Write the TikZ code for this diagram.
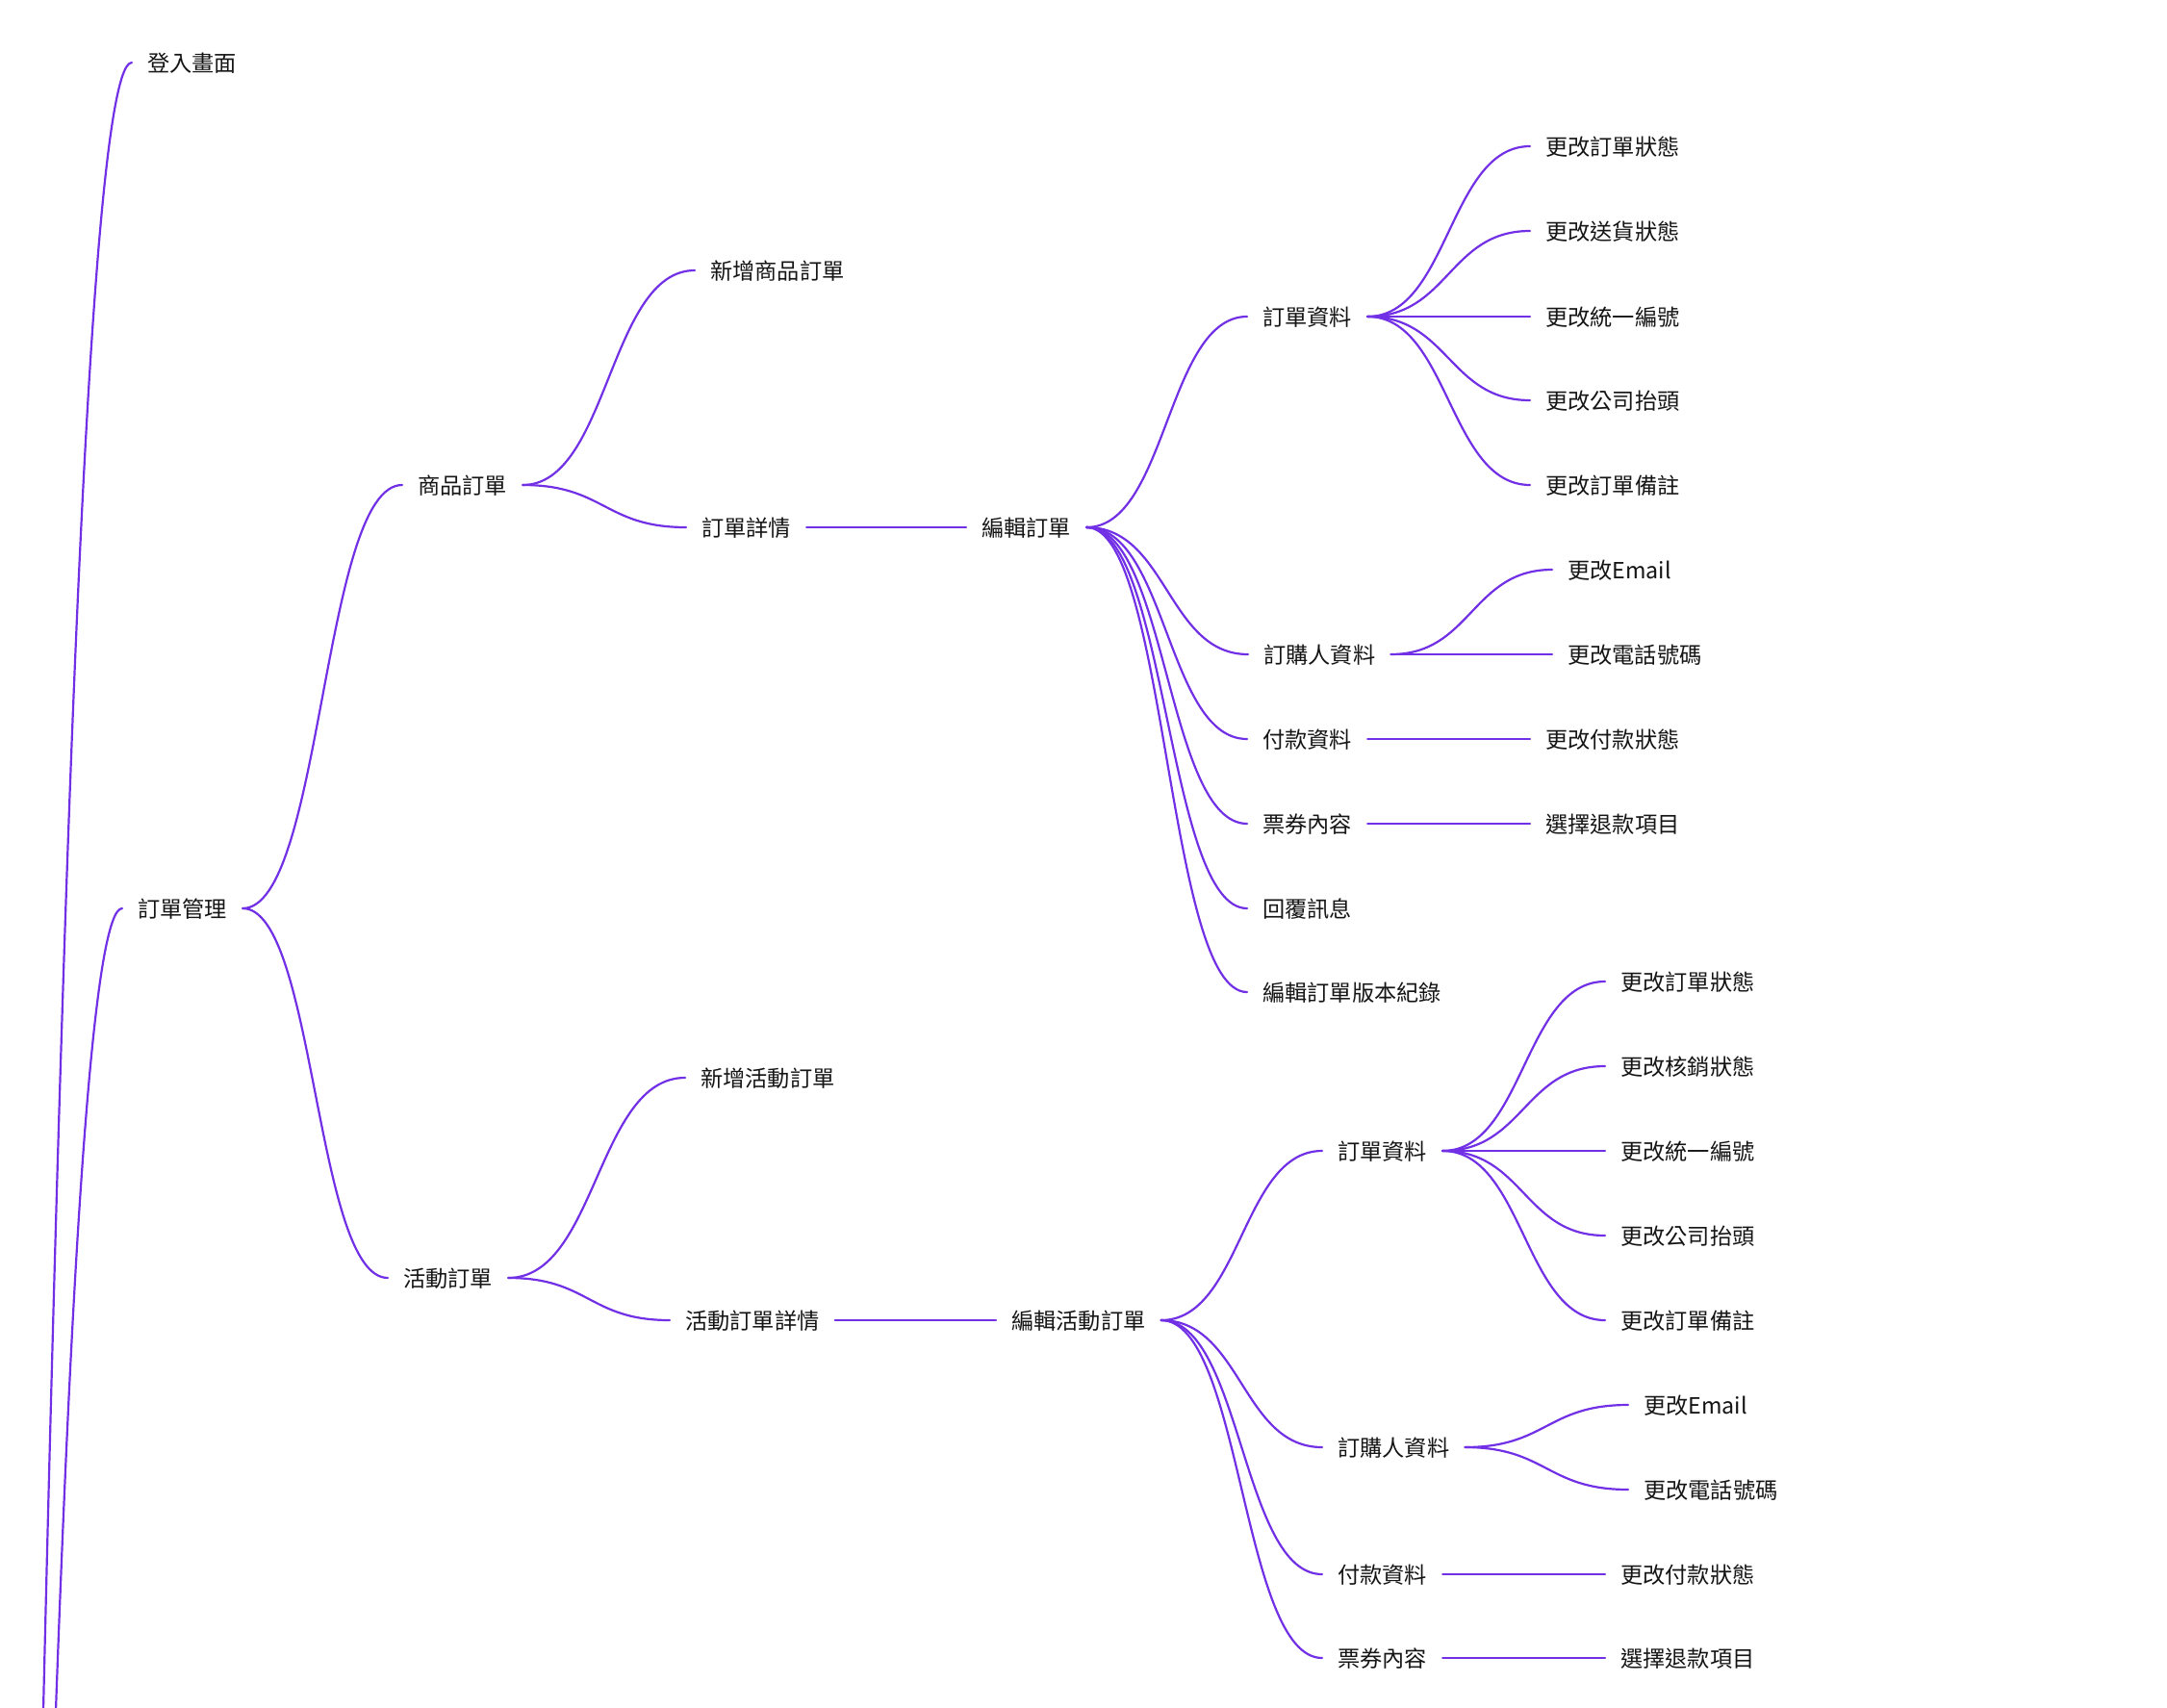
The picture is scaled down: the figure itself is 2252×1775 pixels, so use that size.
\documentclass[tikz,border=0pt]{standalone}
\usepackage{fontspec}
\newfontfamily\cjk{Noto Sans CJK TC}
\usetikzlibrary{calc}
\definecolor{linkc}{HTML}{7230E6}
\definecolor{ink}{HTML}{151515}
\tikzset{
  lbl/.style={anchor=west, font=\cjk\fontsize{23.2}{28}\selectfont, text=ink,
    inner xsep=16pt, inner ysep=0pt, text height=22.6pt, text depth=2.8pt},
  link/.style={draw=linkc, line width=2.2pt, line cap=round},
  mm/.style={to path={let \p1=(\tikztostart), \p2=(\tikztotarget) in
    .. controls ({0.5*(\x1+\x2)},\y1) and ({0.5*(\x1+\x2)},\y2) .. (\tikztotarget)}}
}
\begin{document}
\begin{tikzpicture}[x=1pt,y=-1pt]
\useasboundingbox (0,0) rectangle (2252,1775);
\clip (0,0) rectangle (2252,1775);
\fill[white] (0,0) rectangle (2252,1775);
\coordinate (root) at (-100,6000);
% level 1
\node[lbl] (login) at (137,65) {登入畫面};
\node[lbl] (om) at (127,944) {訂單管理};
% level 2
\node[lbl] (po) at (418,504) {商品訂單};
\node[lbl] (ao) at (403,1328) {活動訂單};
% product branch
\node[lbl] (pnew) at (722,281) {新增商品訂單};
\node[lbl] (pdet) at (713,548) {訂單詳情};
\node[lbl] (pedit) at (1004,548) {編輯訂單};
\node[lbl] (pod) at (1296,329) {訂單資料};
\node[lbl] (pbuy) at (1297,680) {訂購人資料};
\node[lbl] (ppay) at (1296,768) {付款資料};
\node[lbl] (ptk) at (1296,856) {票券內容};
\node[lbl] (pmsg) at (1296,944) {回覆訊息};
\node[lbl] (pver) at (1296,1031) {編輯訂單版本紀錄};
\node[lbl] (pod1) at (1590,152) {更改訂單狀態};
\node[lbl] (pod2) at (1590,240) {更改送貨狀態};
\node[lbl] (pod3) at (1590,329) {更改統一編號};
\node[lbl] (pod4) at (1590,416) {更改公司抬頭};
\node[lbl] (pod5) at (1590,504) {更改訂單備註};
\node[lbl] (pbuy1) at (1613,592) {更改Email};
\node[lbl] (pbuy2) at (1613,680) {更改電話號碼};
\node[lbl] (ppay1) at (1590,768) {更改付款狀態};
\node[lbl] (ptk1) at (1590,856) {選擇退款項目};
% activity branch
\node[lbl] (anew) at (712,1120) {新增活動訂單};
\node[lbl] (adet) at (696,1372) {活動訂單詳情};
\node[lbl] (aedit) at (1035,1372) {編輯活動訂單};
\node[lbl] (aod) at (1374,1196) {訂單資料};
\node[lbl] (abuy) at (1374,1504) {訂購人資料};
\node[lbl] (apay) at (1374,1636) {付款資料};
\node[lbl] (atk) at (1374,1723) {票券內容};
\node[lbl] (aod1) at (1668,1020) {更改訂單狀態};
\node[lbl] (aod2) at (1668,1108) {更改核銷狀態};
\node[lbl] (aod3) at (1668,1196) {更改統一編號};
\node[lbl] (aod4) at (1668,1284) {更改公司抬頭};
\node[lbl] (aod5) at (1668,1372) {更改訂單備註};
\node[lbl] (abuy1) at (1692,1460) {更改Email};
\node[lbl] (abuy2) at (1692,1548) {更改電話號碼};
\node[lbl] (apay1) at (1668,1636) {更改付款狀態};
\node[lbl] (atk1) at (1668,1723) {選擇退款項目};
% links
\path[link] (root) to[mm] (login.west);
\path[link] (root) to[mm] (om.west);
\path[link] (om.east) to[mm] (po.west);
\path[link] (om.east) to[mm] (ao.west);
\path[link] (po.east) to[mm] (pnew.west);
\path[link] (po.east) to[mm] (pdet.west);
\path[link] (pdet.east) to[mm] (pedit.west);
\foreach \c in {pod,pbuy,ppay,ptk,pmsg,pver}
  \path[link] (pedit.east) to[mm] (\c.west);
\foreach \c in {pod1,pod2,pod3,pod4,pod5}
  \path[link] (pod.east) to[mm] (\c.west);
\path[link] (pbuy.east) to[mm] (pbuy1.west);
\path[link] (pbuy.east) to[mm] (pbuy2.west);
\path[link] (ppay.east) to[mm] (ppay1.west);
\path[link] (ptk.east) to[mm] (ptk1.west);
\path[link] (ao.east) to[mm] (anew.west);
\path[link] (ao.east) to[mm] (adet.west);
\path[link] (adet.east) to[mm] (aedit.west);
\foreach \c in {aod,abuy,apay,atk}
  \path[link] (aedit.east) to[mm] (\c.west);
\foreach \c in {aod1,aod2,aod3,aod4,aod5}
  \path[link] (aod.east) to[mm] (\c.west);
\path[link] (abuy.east) to[mm] (abuy1.west);
\path[link] (abuy.east) to[mm] (abuy2.west);
\path[link] (apay.east) to[mm] (apay1.west);
\path[link] (atk.east) to[mm] (atk1.west);
\end{tikzpicture}
\end{document}
